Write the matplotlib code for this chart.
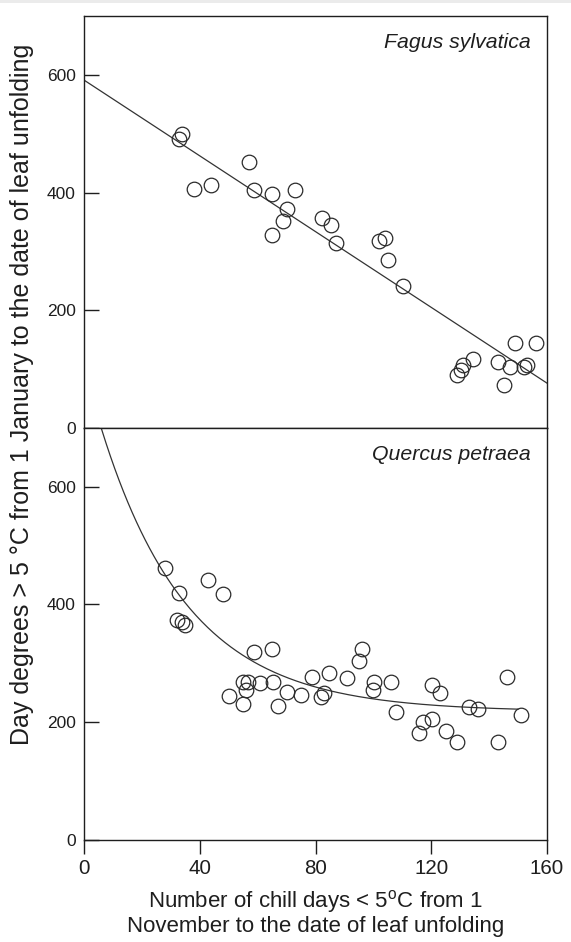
import matplotlib
matplotlib.use("Agg")
import matplotlib.pyplot as plt
from matplotlib.patches import Rectangle
import numpy as np

plt.rcParams["font.family"] = ["Liberation Sans", "DejaVu Sans"]

INK = "#1e1e1e"

# Fagus sylvatica: chill days vs day degrees
fagus_x = [32.8, 33.9, 37.8, 43.8, 56.8, 58.8, 64.9, 72.9, 70.1, 68.8, 64.9, 82.1,
           85.2, 87.0, 102.0, 104.1, 104.9, 110.1, 134.3, 131.1, 130.2, 129.0,
           148.9, 156.1, 143.0, 147.2, 145.1, 152.0, 153.2]
fagus_y = [491, 499, 406, 413, 452, 404, 397, 404, 372, 352, 328, 356,
           345, 315, 317, 322, 285, 241, 117, 107, 98, 89,
           144, 144, 111, 104, 73, 104, 107]
# linear fit: y = a + b * x
fagus_fit = (591.0, -3.22)

# Quercus petraea
quercus_x = [27.9, 32.9, 42.9, 47.9, 32.0, 33.7, 34.9, 58.7, 64.9, 55.0, 56.7, 55.9,
             60.8, 65.1, 50.0, 54.8, 70.0, 74.8, 67.0, 78.9, 82.0, 82.9, 84.7, 90.9,
             95.9, 95.0, 100.2, 99.9, 106.0, 107.8, 120.1, 123.0, 117.0, 120.1, 115.8,
             125.1, 129.0, 133.0, 136.2, 146.1, 143.2, 151.0]
quercus_y = [461, 420, 441, 418, 374, 370, 365, 319, 325, 268, 269, 254,
             267, 268, 244, 231, 251, 246, 227, 276, 243, 250, 283, 275,
             325, 304, 268, 255, 269, 217, 263, 250, 201, 206, 182,
             185, 166, 226, 222, 276, 166, 212]
# exponential fit: y = a + b * exp(-c * x)
quercus_fit = (218.0, 584.0, 0.033)

xticks = [0, 40, 80, 120, 160]
yticks = [0, 200, 400, 600]


def style_axis(ax, show_x):
    ax.set_xlim(0, 160)
    ax.set_ylim(0, 700)
    for sp in ax.spines.values():
        sp.set_color(INK)
        sp.set_linewidth(1.0)
    ax.set_yticks(yticks)
    ax.tick_params(axis="y", direction="in", length=11, width=1.0, color=INK,
                   labelsize=12.5, labelcolor=INK, pad=6)
    ax.set_xticks(xticks)
    if show_x:
        ax.tick_params(axis="x", direction="out", length=10, width=1.0, color=INK,
                       labelsize=14.8, labelcolor=INK, pad=4)
    else:
        ax.tick_params(axis="x", bottom=False, labelbottom=False)


fig = plt.figure(figsize=(5.71, 9.42), dpi=100)
W, H = 571, 942
left, right = 84.3, 547.0
ax1 = fig.add_axes([left / W, 1 - 427.7 / H, (right - left) / W, (427.7 - 16.2) / H])
ax2 = fig.add_axes([left / W, 1 - 840.0 / H, (right - left) / W, (840.0 - 427.7) / H])

circ = dict(marker="o", linestyle="none", markersize=10.5, markerfacecolor="none",
            markeredgecolor="#2a2a2a", markeredgewidth=0.9)

xx = np.linspace(0, 160, 200)
ax1.plot(xx, fagus_fit[0] + fagus_fit[1] * xx, color="#333333", linewidth=0.9)
ax1.plot(fagus_x, fagus_y, **circ)
style_axis(ax1, False)
ax1.text(0.965, 0.935, "Fagus sylvatica", transform=ax1.transAxes, ha="right",
         va="center", fontsize=15.3, style="italic", color=INK)

xq = np.linspace(0, 150, 300)
a, b, c = quercus_fit
ax2.plot(xq, a + b * np.exp(-c * xq), color="#333333", linewidth=0.9)
ax2.plot(quercus_x, quercus_y, **circ)
style_axis(ax2, True)
ax2.text(0.965, 0.935, "Quercus petraea", transform=ax2.transAxes, ha="right",
         va="center", fontsize=15.3, style="italic", color=INK)

ax2.set_xlabel("Number of chill days < 5$\\mathregular{^o}$C from 1\n"
               "November to the date of leaf unfolding",
               fontsize=16, color=INK, labelpad=7, linespacing=1.05)

fig.text(22 / W, 1 - 394 / H,
         "Day degrees > 5 \u00b0C from 1 January to the date of leaf unfolding",
         rotation=90, ha="center", va="center", fontsize=18, color=INK)

fig.patches.append(Rectangle((0, 1 - 3 / H), 1, 3 / H, transform=fig.transFigure,
                             facecolor="#ebebeb", edgecolor="none"))

fig.savefig("out.png", dpi=100)
